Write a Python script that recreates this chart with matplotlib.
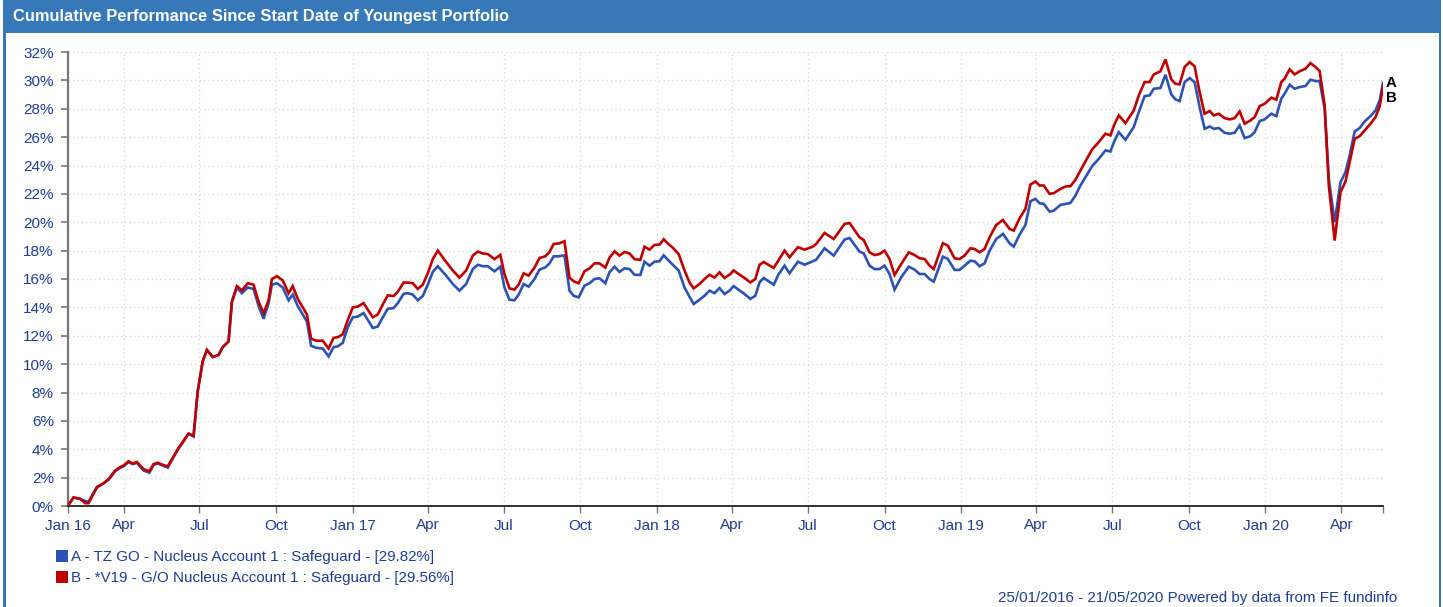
import matplotlib
matplotlib.use("Agg")
import matplotlib.pyplot as plt
from matplotlib.patches import Rectangle, Patch
import pandas as pd

plt.rcParams['font.family'] = ['Liberation Sans', 'DejaVu Sans']

# ---------------- data ----------------
start_date = "2016-01-25"
end_date = "2020-05-21"

# observation day offsets since start date
days = [
    0, 7, 15, 21, 25, 35, 43, 49, 57, 63, 67, 73, 78, 83, 91, 98, 103, 108, 114, 120,
    126, 133, 139, 145, 151, 156, 162, 167, 174, 181, 186, 193, 197, 203, 209, 216, 223, 229, 235, 241,
    245, 251, 258, 265, 270, 276, 282, 287, 292, 298, 306, 313, 319, 324, 330, 336, 342, 348, 355, 366,
    372, 378, 384, 391, 396, 403, 408, 414, 420, 426, 432, 438, 444,
    454, 462, 470, 478, 486, 492, 498, 504, 512, 519, 524, 530, 536, 541, 547, 553, 560, 566, 573, 578,
    583, 589, 596, 602, 607, 613, 620, 626, 632, 638, 645, 650, 656, 662, 668, 674, 680, 687, 692, 698,
    704, 710, 715, 720, 726, 733, 740, 746, 751, 758, 764, 770, 776, 782, 788, 794, 799, 805, 812, 819,
    825, 830, 835,
    847, 853, 860, 866, 876, 884, 894, 898, 908, 919, 932, 938, 950, 955, 962, 968, 974, 980, 986, 992,
    1000, 1009, 1016, 1022, 1028, 1034, 1039, 1050, 1056, 1064, 1070, 1076, 1083, 1088, 1094, 1100, 1106,
    1114, 1122, 1130, 1135, 1142, 1149, 1155, 1161, 1166, 1171, 1178, 1183, 1191, 1197, 1203, 1209, 1215,
    1229, 1237, 1245, 1251, 1256, 1261, 1269, 1279, 1285, 1292, 1298, 1303, 1311, 1317, 1324, 1329, 1334,
    1340, 1346, 1352, 1358, 1364, 1370, 1375, 1381, 1388, 1394, 1400, 1406, 1412, 1419, 1424, 1430, 1436,
    1444, 1450, 1456, 1460, 1466, 1472, 1478, 1485, 1491, 1497, 1502, 1508, 1513, 1520, 1527, 1533, 1538,
    1544, 1550, 1556, 1563, 1569, 1574, 1578,
]

# B - *V19 - G/O Nucleus Account 1 : Safeguard (red)
series_b = [
    0, 0.6, 0.5, 0.2, 0.2, 1.3, 1.6, 1.9, 2.5, 2.75, 2.85, 3.15, 3.0, 3.1, 2.6, 2.45, 2.95, 3.05, 2.9, 2.8,
    3.4, 4.1, 4.6, 5.1, 4.95, 8.1, 10.2, 11.0, 10.5, 10.65, 11.2, 11.6, 14.4, 15.5, 15.2, 15.7, 15.6, 14.4, 13.6, 14.5,
    16.0, 16.2, 15.9, 15.0, 15.5, 14.6, 14.0, 13.5, 11.8, 11.65, 11.65, 11.1, 11.85, 11.9, 12.1, 13.1, 14.0, 14.05, 14.3, 13.3,
    13.5, 14.2, 14.85, 14.8, 15.1, 15.75, 15.75, 15.7, 15.3, 15.6, 16.4, 17.4, 18.0,
    17.2, 16.6, 16.1, 16.6, 17.65, 17.93, 17.8, 17.76, 17.4, 17.7, 16.35, 15.34, 15.25, 15.6, 16.4, 16.24, 16.8, 17.48, 17.6, 17.9,
    18.47, 18.5, 18.66, 16.1, 15.84, 15.7, 16.54, 16.75, 17.1, 17.1, 16.8, 17.5, 17.95, 17.65, 17.9, 17.8, 17.4, 17.35, 18.28, 18.07,
    18.4, 18.42, 18.8, 18.5, 18.2, 17.76, 16.6, 15.76, 15.34, 15.65, 16.0, 16.3, 16.1, 16.47, 16.07, 16.3, 16.6, 16.35, 16.07, 15.76,
    16.0, 17.0, 17.2,
    16.78, 17.34, 18.0, 17.53, 18.24, 18.07, 18.28, 18.47, 19.25, 18.82, 19.88, 19.95, 18.94, 18.75, 17.88, 17.69, 17.76, 18.0, 17.41, 16.28,
    17.06, 17.88, 17.69, 17.46, 17.41, 16.94, 16.7, 18.52, 18.35, 17.46, 17.41, 17.65, 18.16, 18.12, 17.88, 18.12, 18.94,
    19.81, 20.16, 19.53, 19.41, 20.28, 20.94, 22.66, 22.87, 22.59, 22.59, 22.0, 22.05, 22.35, 22.52, 22.54, 22.99, 23.65,
    25.13, 25.65, 26.24, 26.12, 26.94, 27.53, 26.99, 27.88, 28.94, 29.88, 29.88, 30.42, 30.64, 31.48, 30.07, 29.76, 29.72,
    30.94, 31.29, 30.99, 29.18, 27.65, 27.84, 27.53, 27.65, 27.34, 27.25, 27.34, 27.81, 26.94, 27.18, 27.41, 28.19, 28.35,
    28.78, 28.64, 29.88, 30.12, 30.78, 30.42, 30.64, 30.82, 31.22, 30.94, 30.66, 28.24, 22.59, 18.71, 22.12, 22.87, 24.24,
    25.88, 26.07, 26.47, 26.94, 27.41, 28.16, 29.56,
]

# A - TZ GO - Nucleus Account 1 : Safeguard (blue)
series_a = [
    0, 0.6, 0.5, 0.35, 0.3, 1.35, 1.6, 1.85, 2.45, 2.7, 2.8, 3.1, 2.95, 3.05, 2.5, 2.35, 2.9, 3.0, 2.85, 2.7,
    3.35, 4.05, 4.55, 5.1, 4.9, 8.1, 10.2, 11.0, 10.5, 10.65, 11.2, 11.6, 14.4, 15.4, 15.0, 15.4, 15.3, 14.1, 13.2, 14.3,
    15.6, 15.7, 15.4, 14.5, 14.9, 14.1, 13.5, 13.0, 11.3, 11.15, 11.1, 10.55, 11.2, 11.25, 11.5, 12.6, 13.3, 13.35, 13.6, 12.55,
    12.65, 13.3, 13.9, 13.95, 14.3, 14.95, 15.0, 14.9, 14.5, 14.8, 15.6, 16.5, 16.9,
    16.24, 15.65, 15.18, 15.65, 16.7, 17.0, 16.9, 16.9, 16.54, 16.87, 15.4, 14.54, 14.5, 14.9, 15.65, 15.46, 16.0, 16.66, 16.82, 17.1,
    17.6, 17.6, 17.67, 15.18, 14.82, 14.7, 15.53, 15.7, 16.0, 16.05, 15.7, 16.47, 16.87, 16.5, 16.75, 16.7, 16.3, 16.28, 17.22, 16.94,
    17.22, 17.25, 17.67, 17.36, 17.0, 16.6, 15.4, 14.75, 14.24, 14.54, 14.82, 15.18, 15.0, 15.36, 14.94, 15.18, 15.5, 15.24, 14.94, 14.6,
    14.82, 15.76, 16.07,
    15.6, 16.35, 16.94, 16.4, 17.22, 17.01, 17.25, 17.36, 18.16, 17.65, 18.78, 18.89, 17.93, 17.81, 16.94, 16.7, 16.7, 16.94, 16.35, 15.25,
    16.12, 16.87, 16.66, 16.35, 16.35, 16.0, 15.81, 17.58, 17.41, 16.64, 16.64, 16.94, 17.29, 17.25, 16.9, 17.1, 18.0,
    18.82, 19.18, 18.52, 18.28, 19.13, 19.81, 21.48, 21.65, 21.34, 21.29, 20.75, 20.82, 21.22, 21.29, 21.36, 21.88, 22.59,
    23.95, 24.47, 25.06, 24.99, 25.76, 26.35, 25.81, 26.71, 27.76, 28.89, 28.94, 29.41, 29.46, 30.4, 29.01, 28.66, 28.54,
    29.88, 30.16, 29.88, 28.12, 26.59, 26.75, 26.59, 26.64, 26.31, 26.24, 26.31, 26.82, 25.93, 26.07, 26.35, 27.13, 27.25,
    27.65, 27.48, 28.71, 29.06, 29.69, 29.41, 29.53, 29.6, 30.05, 29.95, 29.95, 28.0, 23.06, 20.0, 22.82, 23.53, 24.71,
    26.4, 26.64, 27.11, 27.48, 27.88, 28.59, 29.82,
]

tick_dates = ["2016-01-25", "2016-04-01", "2016-07-01", "2016-10-01", "2017-01-01", "2017-04-01",
              "2017-07-01", "2017-10-01", "2018-01-01", "2018-04-01", "2018-07-01", "2018-10-01",
              "2019-01-01", "2019-04-01", "2019-07-01", "2019-10-01", "2020-01-01", "2020-04-01",
              "2020-05-21"]
tick_labels = ["Jan 16", "Apr", "Jul", "Oct", "Jan 17", "Apr", "Jul", "Oct", "Jan 18", "Apr",
               "Jul", "Oct", "Jan 19", "Apr", "Jul", "Oct", "Jan 20", "Apr", ""]
y_ticks = list(range(0, 33, 2))

title = "Cumulative Performance Since Start Date of Youngest Portfolio"
label_a = "A - TZ GO - Nucleus Account 1 : Safeguard - [29.82%]"
label_b = "B - *V19 - G/O Nucleus Account 1 : Safeguard - [29.56%]"
footer = "25/01/2016 - 21/05/2020 Powered by data from FE fundinfo"

# ---------------- styling ----------------
W, H = 1443, 607
BAR = "#3778b8"
BLUE = "#2c52b8"
RED = "#c00000"
NAVY = "#1f3c94"

fig = plt.figure(figsize=(W / 100, H / 100), dpi=100)
fig.patch.set_facecolor("white")

# frame and title bar
fig.patches.append(Rectangle((3 / W, 0), 2.5 / W, 1, transform=fig.transFigure,
                             facecolor=BAR, edgecolor="none", zorder=0))
fig.patches.append(Rectangle((1438.5 / W, 0), 2.5 / W, 1, transform=fig.transFigure,
                             facecolor=BAR, edgecolor="none", zorder=0))
fig.patches.append(Rectangle((3 / W, 1 - 33 / H), 1438 / W, 33 / H, transform=fig.transFigure,
                             facecolor=BAR, edgecolor="none", zorder=0))
fig.text(13 / W, 1 - 17 / H, title, color="white", fontsize=11.9, fontweight="bold",
         ha="left", va="center")

x0, x1, y0, y1 = 67.7, 1383, 52, 506
ax = fig.add_axes([x0 / W, 1 - y1 / H, (x1 - x0) / W, (y1 - y0) / H])

start = pd.Timestamp(start_date)
total_days = (pd.Timestamp(end_date) - start).days
tick_pos = [(pd.Timestamp(d) - start).days for d in tick_dates]

ax.plot(days, series_a, color=BLUE, lw=1.9, zorder=3, solid_joinstyle="miter")
ax.plot(days, series_b, color=RED, lw=1.9, zorder=4, solid_joinstyle="miter")

ax.set_xlim(0, total_days)
ax.set_ylim(0, 32)
ax.set_xticks(tick_pos)
ax.set_xticklabels(tick_labels)
ax.set_yticks(y_ticks)
ax.set_yticklabels([f"{v}%" for v in y_ticks])

ax.grid(True, color="#d8d8d8", linestyle=(0, (1, 2.5)), linewidth=0.9, zorder=0)
for s in ("top", "right"):
    ax.spines[s].set_visible(False)
ax.spines["left"].set_color("#777777")
ax.spines["left"].set_linewidth(1.6)
ax.spines["bottom"].set_color("#222222")
ax.spines["bottom"].set_linewidth(1.3)
ax.tick_params(axis="y", direction="out", length=5, width=1.2, color="#777777",
               labelcolor=NAVY, labelsize=11, pad=5)
ax.tick_params(axis="x", direction="out", length=5, width=1.0, color="#777777",
               labelcolor=NAVY, labelsize=11, pad=4)

ax.annotate("A", xy=(days[-1], series_a[-1]), xytext=(3, 0), textcoords="offset pixels",
            ha="left", va="center", fontsize=10.8, fontweight="bold", color="black",
            annotation_clip=False)
ax.annotate("B", xy=(days[-1], series_b[-1]), xytext=(3, -11.5), textcoords="offset pixels",
            ha="left", va="center", fontsize=10.8, fontweight="bold", color="black",
            annotation_clip=False)

handles = [Patch(facecolor=BLUE, edgecolor="none", label=label_a),
           Patch(facecolor=RED, edgecolor="none", label=label_b)]
leg = fig.legend(handles=handles, loc="upper left", bbox_to_anchor=(56 / W, 1 - 550 / H),
                 frameon=False, fontsize=10.9, handlelength=0.8, handleheight=0.8,
                 handletextpad=0.2, labelspacing=0.48, borderpad=0, borderaxespad=0)
for t in leg.get_texts():
    t.set_color(NAVY)

fig.text(1397 / W, 1 - 598 / H, footer, color=NAVY, fontsize=10.9, ha="right", va="center")

fig.savefig("out.png", dpi=100)
